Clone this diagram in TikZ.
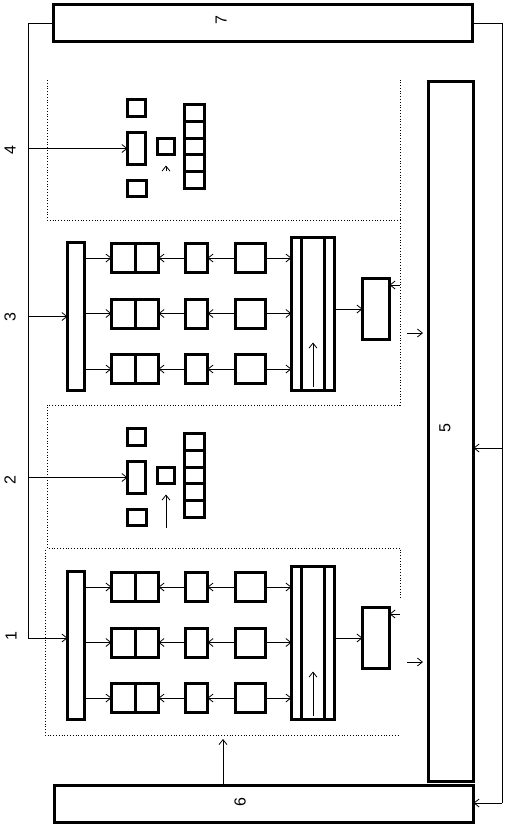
\documentclass[tikz,border=0pt]{standalone}
\usepackage{fontspec}
\setmainfont{Liberation Sans}
\usetikzlibrary{arrows.meta,positioning}

\begin{document}
\begin{tikzpicture}[
    x=1pt, y=-1pt,
    font=\fontsize{16}{16}\selectfont,
    node distance=0pt,
    blk/.style={draw, line width=3pt, inner sep=0pt, outer sep=0pt},
    cell/.style={blk, minimum width=20pt, minimum height=16.8pt},
    bar/.style={line width=3pt},
    wire/.style={line width=0.8pt},
    arr/.style={-{Straight Barb[length=5pt,width=8pt]}, line width=0.8pt},
    dots/.style={dotted, line width=0.8pt},
    num/.style={rotate=90, inner sep=0pt}
]
\useasboundingbox (0,0) rectangle (504,828);

% outer blocks
\node[blk, minimum width=419pt, minimum height=37pt] (box7) at (263,23) {};
\node[blk, minimum width=45pt, minimum height=700pt] (box5) at (451,431.5) {};
\node[blk, minimum width=419pt, minimum height=37pt] (box6) at (264,804) {};
\node[num] (lbl7) at (221,20) {7};
\node[num] (lbl5) at (445,428) {5};
\node[num] (lbl6) at (240,802) {6};

% dotted frames
\draw[dots] (47,80) |- (400,220) -- (400,80);
\draw[dots] (400,220) |- (47,405);
\draw[dots] (47,407) |- (400,548) -- (400,598);
\draw[dots] (45,550) |- (400,735);

% channels 3 and 1
\foreach \r/\dy in {3/0, 1/329}{
  \node[blk, minimum width=17pt, minimum height=148pt] (bus\r) at (76,316.5+\dy) {};
  \node[blk, minimum width=43pt, minimum height=153pt] (big\r) at (313,314+\dy) {};
  \node[blk, minimum width=27pt, minimum height=61pt] (side\r) at (376,309+\dy) {};
  \draw[bar] ([xshift=-11.5pt]big\r.north) -- ([xshift=-11.5pt]big\r.south);
  \draw[bar] ([xshift=11.5pt]big\r.north) -- ([xshift=11.5pt]big\r.south);
  \draw[arr] ([yshift=4pt]big\r.south) -- ++(0,-44);
  \draw[arr] (big\r.east |- side\r) -- (side\r.west);
  \coordinate (fb\r) at (400,285+\dy);
  \draw[arr] (fb\r) -- (fb\r -| side\r.east);
  \coordinate (out\r) at (407,333+\dy);
  \draw[arr] (out\r) -- ++(16,0);
  \foreach \k/\yy in {a/258, b/313.5, c/369}{
    \node[blk, minimum width=47pt, minimum height=29pt] (dbl\r\k) at (135,\yy+\dy) {};
    \node[blk, minimum width=22pt, minimum height=29pt] (sml\r\k) at (196.5,\yy+\dy) {};
    \node[blk, minimum width=30pt, minimum height=29pt] (med\r\k) at (250.5,\yy+\dy) {};
    \draw[bar] (dbl\r\k.north) -- (dbl\r\k.south);
    \draw[arr] (bus\r.east |- dbl\r\k) -- (dbl\r\k.west);
    \draw[arr] (sml\r\k) -- (dbl\r\k);
    \draw[arr] (med\r\k) -- (sml\r\k);
    \draw[arr] (med\r\k.east) -- (med\r\k.east -| big\r.west);
  }
}

% channels 4 and 2
\foreach \r/\dy/\len in {4/0/5, 2/329/33}{
  \node[blk, minimum width=18pt, minimum height=17pt] (top\r) at (136.5,108+\dy) {};
  \node[blk, minimum width=18pt, minimum height=32pt] (mid\r) at (136.5,148.5+\dy) {};
  \node[blk, minimum width=19pt, minimum height=16pt] (bot\r) at (137,188.5+\dy) {};
  \node[blk, minimum width=17pt, minimum height=16pt] (ctr\r) at (166,146.5+\dy) {};
  \node[cell] (st\r1) at (194.5,112.9+\dy) {};
  \foreach \i [count=\j from 2] in {1,...,4}
    \node[cell, below=of st\r\i] (st\r\j) {};
  \draw[arr] ([yshift={-(11+\len)*1pt}]ctr\r.south) -- ([yshift=-11pt]ctr\r.south);
}

% feed lines
\coordinate (feedL) at (28,638);
\coordinate (feedR) at (502,803);
\coordinate (tap5) at (502,448);
\coordinate (in1) at (223,739);
\draw[wire] (box7.west) -| (feedL);
\draw[arr] (feedL) -- (feedL -| bus1.west);
\draw[arr] (feedL |- bus3) -- (bus3.west);
\draw[arr] (feedL |- mid4) -- (mid4.west);
\draw[arr] (feedL |- mid2) -- (mid2.west);
\draw[wire] (box7.east) -| (feedR);
\draw[arr] (feedR) -- (feedR -| box6.east);
\draw[arr] (tap5) -- (tap5 -| box5.east);
\draw[arr] (in1 |- box6.north) -- (in1);

\node[num] (lbl1) at (11,636) {1};
\node[num] (lbl2) at (10,480) {2};
\node[num] (lbl3) at (10,317) {3};
\node[num] (lbl4) at (10,150) {4};
\end{tikzpicture}
\end{document}
